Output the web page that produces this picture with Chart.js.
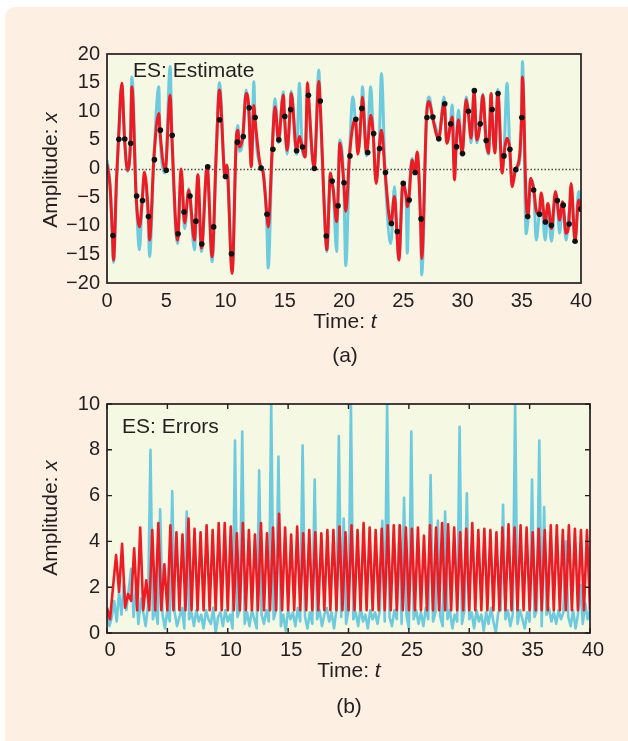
<!DOCTYPE html>
<html>
<head>
<meta charset="utf-8">
<script src="https://cdn.jsdelivr.net/npm/chart.js@4.4.0/dist/chart.umd.min.js"></script>
<style>
  body { margin: 0; width: 628px; height: 741px; background: #fff; overflow: hidden; position: relative;
         font-family: "Liberation Sans", Arial, sans-serif; color: #231f20; }
  #panel { position: absolute; left: 5px; top: 7px; width: 640px; height: 760px; background: #fdefe2; border-radius: 10px; }
  canvas { position: absolute; left: 0; }
  .lbl { position: absolute; font-size: 21px; line-height: 21px; white-space: nowrap; }
  .ctr { transform: translate(-50%, -50%); }
  .rot { transform: translate(-50%, -50%) rotate(-90deg); }
</style>
</head>
<body>
<div id="panel"></div>
<canvas id="estChart" width="628" height="315" style="top:0"></canvas>
<canvas id="errChart" width="628" height="300" style="top:370px"></canvas>

<div class="lbl" style="left:133px; top:59px">ES: Estimate</div>
<div class="lbl rot" style="left:49px; top:170px">Amplitude: <i>x</i></div>
<div class="lbl ctr" style="left:345px; top:320px">Time: <i>t</i></div>
<div class="lbl ctr" style="left:345px; top:354px">(a)</div>

<div class="lbl" style="left:122px; top:415px">ES: Errors</div>
<div class="lbl rot" style="left:49px; top:518px">Amplitude: <i>x</i></div>
<div class="lbl ctr" style="left:349px; top:669px">Time: <i>t</i></div>
<div class="lbl ctr" style="left:349px; top:705px">(b)</div>

<script>
// (a) estimate vs truth, sampled at the turning points of the curves
const tEst = [
  0.00, 0.25, 0.46, 0.55, 0.80, 0.97, 1.25, 1.48, 1.73, 1.98,
  2.10, 2.46, 2.74, 2.97, 3.16, 3.50, 3.59, 3.95, 4.37, 4.46,
  4.91, 5.33, 5.47, 5.95, 6.26, 6.55, 6.90, 7.38, 7.67, 7.97,
  8.45, 8.87, 9.21, 9.49, 9.97, 10.11, 10.56, 10.90, 11.04, 11.18,
  11.46, 11.74, 11.97, 12.17, 12.40, 12.48, 12.98, 13.15, 13.49, 13.60,
  13.94, 14.18, 14.47, 14.88, 14.98, 15.20, 15.46, 15.55, 16.00, 16.24,
  16.47, 16.72, 16.93, 17.00, 17.48, 17.88, 17.98, 18.45, 18.55, 18.86,
  18.97, 19.10, 19.38, 19.47, 19.65, 19.98, 20.15, 20.46, 20.75, 20.97,
  21.17, 21.48, 21.55, 21.90, 22.26, 22.46, 22.71, 22.97, 23.16, 23.47,
  23.95, 24.26, 24.46, 24.63, 24.97, 25.25, 25.34, 25.47, 25.75, 25.98,
  26.18, 26.46, 26.56, 26.96, 27.18, 27.47, 27.78, 27.97, 28.45, 28.68,
  28.99, 29.13, 29.33, 29.46, 29.66, 29.97, 30.31, 30.48, 30.73, 30.98,
  31.20, 31.49, 31.72, 31.99, 32.19, 32.42, 32.48, 32.73, 32.98, 33.35,
  33.49, 33.76, 33.99, 34.19, 34.47, 34.81, 34.98, 35.06, 35.37, 35.52,
  35.75, 36.02, 36.22, 36.47, 36.64, 36.98, 37.21, 37.51, 37.85, 37.99,
  38.19, 38.45, 38.74, 38.97, 39.17, 39.50, 39.80, 40.00
];
const estimate = [
  0.8, -3.0, -11.7, -16.0, -2.0, 5.1, 14.9, 5.2, -0.3, 4.4,
  14.3, -4.9, -10.2, -5.6, -0.6, -8.4, -12.5, 1.55, 9.6, 6.7,
  -0.3, 12.8, 5.8, -12.5, -0.1, -9.5, -3.8, -12.5, -1.1, -13.9,
  0.3, -15.4, 2.3, 13.7, -1.4, 0.6, -18.3, 4.7, 6.7, 3.8,
  5.6, 13.1, 10.6, 0.3, 11.0, 8.9, 0.1, -0.5, -8.0, -10.2,
  3.35, 10.8, 5.0, 12.8, 9.1, 3.2, 10.3, 13.1, 3.1, 5.6,
  3.75, 2.0, 15.0, 12.8, 0.0, 15.2, 11.8, -11.8, -14.2, -0.8,
  -2.2, -3.8, -9.3, -6.5, 4.4, -2.5, -7.5, 2.2, 7.5, 8.6,
  2.5, 10.5, 12.5, 2.6, 9.3, 6.1, -2.6, 3.5, 6.7, -0.7,
  -9.6, -4.9, -11.0, -16.0, -2.6, -4.9, -6.7, -5.5, 1.5, -0.7,
  2.9, -8.8, -15.7, 8.9, 11.7, 9.0, 6.1, 5.2, 11.4, 4.4,
  7.8, 9.0, -2.0, 3.8, 8.5, 2.6, 12.0, 10.0, 5.3, 13.6,
  5.0, 7.8, 12.8, 4.9, 2.7, 13.1, 10.3, 2.7, 13.1, -0.8,
  2.2, 5.3, 3.35, -3.2, -0.2, 2.1, 8.9, 16.0, -5.5, -8.4,
  -1.7, -3.75, -7.3, -8.0, -4.3, -9.35, -6.1, -10.5, -4.0, -5.6,
  -9.0, -5.8, -11.3, -9.7, -2.6, -12.7, -5.5, -7.1
];
const truth = [
  1.5, -2.5, -12.0, -16.4, -2.5, 5.0, 14.5, 5.5, -0.5, 5.0,
  16.0, -4.5, -14.2, -5.3, -1.5, -10.0, -15.4, 1.5, 14.3, 7.0,
  -0.8, 17.8, 6.0, -13.1, -1.0, -10.5, -3.5, -14.2, -2.0, -14.5,
  0.5, -16.3, 2.0, 15.0, -1.5, 0.5, -17.7, 4.5, 7.5, 3.0,
  5.0, 13.7, 9.0, 1.0, 15.2, 9.0, 0.5, 0.0, -10.0, -17.4,
  3.0, 12.2, 4.5, 13.4, 9.0, 2.5, 11.0, 13.5, 2.5, 14.9,
  3.5, 2.0, 14.0, 12.5, 0.0, 17.2, 11.5, -12.0, -14.5, -1.0,
  -2.0, -4.0, -14.5, -7.0, 5.0, -2.5, -17.0, 2.0, 12.5, 8.0,
  3.0, 10.0, 14.3, 2.2, 14.3, 6.0, -2.0, 4.0, 16.6, -1.0,
  -13.1, -3.2, -11.0, -15.5, -2.5, -6.0, -14.8, -5.5, 1.8, -0.5,
  1.5, -9.0, -18.6, 9.0, 12.5, 9.0, 7.0, 5.0, 12.5, 4.5,
  8.0, 11.1, 0.0, 3.5, 10.2, 3.0, 12.5, 10.0, 4.5, 13.0,
  4.5, 8.0, 13.0, 4.5, 2.5, 13.0, 10.0, 3.2, 13.8, 0.0,
  2.0, 14.9, 3.0, -2.0, 0.0, 1.0, 9.0, 18.7, -11.4, -9.0,
  -2.0, -4.0, -12.5, -8.0, -4.9, -12.5, -7.0, -12.7, -5.0, -6.0,
  -11.3, -6.0, -12.5, -8.0, -5.0, -12.5, -4.0, -7.0
];
// observations, one every 0.5
const tObs = [
  0.5, 1.0, 1.5, 2.0, 2.5, 3.0, 3.5, 4.0, 4.5, 5.0,
  5.5, 6.0, 6.5, 7.0, 7.5, 8.0, 8.5, 9.0, 9.5, 10.0,
  10.5, 11.0, 11.5, 12.0, 12.5, 13.0, 13.5, 14.0, 14.5, 15.0,
  15.5, 16.0, 16.5, 17.0, 17.5, 18.0, 18.5, 19.0, 19.5, 20.0,
  20.5, 21.0, 21.5, 22.0, 22.5, 23.0, 23.5, 24.0, 24.5, 25.0,
  25.5, 26.0, 26.5, 27.0, 27.5, 28.0, 28.5, 29.0, 29.5, 30.0,
  30.5, 31.0, 31.5, 32.0, 32.5, 33.0, 33.5, 34.0, 34.5, 35.0,
  35.5, 36.0, 36.5, 37.0, 37.5, 38.0, 38.5, 39.0, 39.5, 40.0
];
const obsVals = [
  -11.7, 5.1, 5.15, 4.4, -4.8, -5.6, -8.4, 1.55, 6.7, -0.3,
  5.8, -11.4, -7.6, -4.8, -9.2, -13.2, 0.3, -10.2, 8.5, -1.4,
  -14.9, 4.6, 5.6, 10.6, 8.9, 0.1, -8.0, 3.35, 5.0, 9.1,
  10.3, 3.1, 3.75, 12.8, 0.0, 11.8, -11.8, -2.2, -6.5, -2.5,
  2.2, 8.6, 10.5, 2.8, 6.1, 3.5, -0.7, -9.6, -11.0, -2.6,
  -5.5, -0.7, -8.8, 8.9, 9.0, 5.2, 11.3, 7.8, 3.8, 2.6,
  10.0, 13.6, 7.8, 4.9, 10.3, 13.1, 2.2, 3.35, -0.2, 8.9,
  -8.4, -3.75, -8.0, -9.35, -9.9, -5.6, -6.4, -9.7, -12.7, -7.1
];

// (b) errors: estimate error sampled every 0.25, truth-model error every 0.2
const errStep = 0.25;
const estErr = [
  1.1, 0.6, 2.0, 3.4, 1.8, 3.9, 1.1, 1.7,
  1.4, 3.7, 1.0, 4.6, 1.0, 2.3, 1.0, 4.5,
  1.0, 4.8, 1.0, 3.0, 1.0, 4.7, 1.0, 4.4,
  1.0, 4.3, 1.0, 5.0, 1.0, 4.55, 1.0, 4.4,
  1.0, 4.7, 1.0, 4.5, 1.0, 4.8, 1.0, 4.8,
  1.0, 4.65, 1.0, 4.35, 1.0, 4.8, 1.0, 4.5,
  1.0, 4.3, 1.0, 4.8, 1.0, 4.35, 1.0, 4.6,
  1.0, 5.2, 1.0, 4.6, 1.0, 4.3, 1.0, 4.65,
  1.0, 4.35, 1.0, 4.5, 1.0, 4.4, 1.0, 4.35,
  1.0, 4.5, 1.0, 4.5, 1.0, 4.65, 1.0, 4.4,
  1.0, 4.7, 1.0, 4.5, 1.0, 4.8, 1.0, 4.6,
  1.0, 4.5, 1.0, 4.55, 1.0, 4.7, 1.0, 4.7,
  1.0, 4.7, 1.0, 4.6, 1.0, 4.55, 1.0, 4.6,
  1.0, 4.25, 1.0, 4.7, 1.0, 4.6, 1.0, 4.8,
  1.0, 4.75, 1.0, 4.6, 1.0, 4.4, 1.0, 4.55,
  1.0, 4.8, 1.0, 4.5, 1.0, 4.55, 1.0, 4.5,
  1.0, 4.4, 1.0, 4.6, 1.0, 4.75, 1.0, 4.6,
  1.0, 4.7, 1.0, 4.6, 1.0, 4.4, 1.0, 4.55,
  1.0, 4.5, 1.0, 4.7, 1.0, 4.7, 1.0, 4.5,
  1.0, 4.7, 1.0, 4.55, 1.0, 4.5, 1.0, 4.5,
  1.0
];
const truthStep = 0.2;
const truthErr = [
  0.9, 0.3, 0.7, 1.4, 0.5, 1.8, 0.8, 2.2, 1.0, 1.9,
  2.8, 0.7, 2.0, 0.4, 1.5, 0.9, 0.3, 1.2, 8.0, 0.6,
  1.1, 0.4, 5.4, 0.8, 0.2, 1.0, 0.5, 6.2, 0.9, 0.3,
  0.7, 1.1, 0.2, 5.3, 0.6, 0.9, 0.3, 1.0, 0.5, 0.8,
  0.2, 1.0, 0.6, 0.4, 1.1, 0.0, 0.7, 0.9, 0.3, 1.0,
  0.5, 0.8, 0.2, 8.4, 0.7, 1.0, 8.8, 0.4, 0.9, 0.3,
  1.0, 0.6, 0.2, 7.1, 0.8, 0.4, 1.0, 0.5, 10.0, 0.6,
  1.0, 7.7, 0.3, 0.8, 0.1, 1.0, 0.6, 0.9, 0.3, 1.1,
  0.5, 8.2, 0.7, 0.2, 0.9, 0.4, 6.7, 0.6, 1.0, 0.3,
  0.8, 1.1, 0.5, 0.9, 0.2, 1.0, 8.6, 0.7, 5.0, 0.4,
  1.0, 10.0, 0.6, 0.9, 0.3, 1.1, 0.5, 0.8, 0.2, 1.0,
  0.6, 0.9, 0.4, 1.0, 4.9, 0.5, 10.0, 0.7, 0.3, 1.0,
  0.6, 4.7, 0.4, 5.9, 0.8, 0.2, 8.8, 0.6, 1.0, 0.4,
  0.9, 0.3, 1.1, 0.6, 6.9, 0.5, 0.9, 4.9, 0.7, 0.3,
  5.3, 0.6, 1.0, 0.2, 0.8, 0.5, 9.0, 0.4, 1.0, 6.1,
  0.6, 0.9, 0.2, 1.0, 0.5, 0.8, 0.1, 0.9, 0.4, 1.1,
  0.5, 0.0, 0.9, 1.0, 5.6, 0.6, 1.0, 0.3, 0.8, 10.0,
  0.4, 1.0, 0.6, 0.2, 0.9, 0.5, 6.7, 0.7, 1.0, 8.4,
  0.3, 5.5, 0.8, 1.1, 0.5, 0.9, 0.4, 1.0, 0.6, 0.9,
  4.0, 0.7, 0.3, 1.0, 0.2, 0.8, 2.1, 0.4, 1.3, 0.6,
  1.0
];

const xTicks = [0, 5, 10, 15, 20, 25, 30, 35, 40];

const RED = '#ec1c24';
const CYAN = '#6ecbdd';
const INK = '#231f20';
const PLOT_BG = '#f5f8e3';

Chart.defaults.font.family = '"Liberation Sans", Arial, sans-serif';
Chart.defaults.font.size = 20;
Chart.defaults.color = INK;

const fmt = v => (v < 0 ? '\u2212' + Math.abs(v) : String(v));

// plot background, dotted zero line, black frame and inward ticks
const plotFrame = {
  id: 'plotFrame',
  beforeDraw(chart, args, opts) {
    const { ctx, chartArea: a } = chart;
    ctx.save();
    ctx.fillStyle = PLOT_BG;
    ctx.fillRect(a.left, a.top, a.width, a.height);
    if (opts.zeroLine) {
      const y = Math.round(chart.scales.y.getPixelForValue(0)) + 0.5;
      ctx.strokeStyle = '#4a4a4a';
      ctx.lineWidth = 1.4;
      ctx.setLineDash([1.5, 2]);
      ctx.beginPath();
      ctx.moveTo(a.left, y);
      ctx.lineTo(a.right, y);
      ctx.stroke();
    }
    ctx.restore();
  },
  afterDraw(chart, args, opts) {
    const { ctx, chartArea: a, scales } = chart;
    ctx.save();
    ctx.strokeStyle = INK;
    if (opts.ticks) {
      const L = 5;
      ctx.lineWidth = 1.4;
      ctx.beginPath();
      scales.x.ticks.forEach(t => {
        const x = scales.x.getPixelForValue(t.value);
        ctx.moveTo(x, a.bottom); ctx.lineTo(x, a.bottom - L);
        ctx.moveTo(x, a.top); ctx.lineTo(x, a.top + L);
      });
      scales.y.ticks.forEach(t => {
        const y = scales.y.getPixelForValue(t.value);
        ctx.moveTo(a.left, y); ctx.lineTo(a.left + L, y);
        ctx.moveTo(a.right, y); ctx.lineTo(a.right - L, y);
      });
      ctx.stroke();
    }
    ctx.lineWidth = 1.7;
    ctx.strokeRect(a.left, a.top, a.width, a.height);
    ctx.restore();
  }
};

function axes(yMin, yMax, yStep, xHeight, xPad, xOffset) {
  return {
    x: {
      type: 'linear', min: 0, max: 40,
      afterBuildTicks: s => { s.ticks = xTicks.map(v => ({ value: v })); },
      ticks: { padding: xPad, maxRotation: 0, autoSkip: false, labelOffset: xOffset },
      grid: { display: false, drawTicks: false },
      border: { display: false },
      afterFit: s => { s.height = xHeight; }
    },
    y: {
      min: yMin, max: yMax,
      ticks: { stepSize: yStep, padding: 7, callback: fmt },
      grid: { display: false, drawTicks: false },
      border: { display: false },
      afterFit: s => { s.width = 107; }
    }
  };
}

const common = {
  responsive: false,
  animation: false,
  devicePixelRatio: 1,
  events: []
};

new Chart(document.getElementById('estChart'), {
  type: 'line',
  data: {
    datasets: [
      {
        data: tObs.map((t, i) => ({ x: t, y: obsVals[i] })),
        showLine: false, pointRadius: 2.8, pointBackgroundColor: '#111', pointBorderWidth: 0, order: 0
      },
      {
        data: tEst.map((t, i) => ({ x: t, y: estimate[i] })),
        borderColor: RED, borderWidth: 3, pointRadius: 0, cubicInterpolationMode: 'monotone',
        borderJoinStyle: 'round', order: 1
      },
      {
        data: tEst.map((t, i) => ({ x: t, y: truth[i] })),
        borderColor: CYAN, borderWidth: 3, pointRadius: 0, cubicInterpolationMode: 'monotone',
        borderJoinStyle: 'round', order: 2
      }
    ]
  },
  options: {
    ...common,
    layout: { padding: { left: 0, right: 47, top: 54, bottom: 0 } },
    plugins: { legend: { display: false }, tooltip: { enabled: false }, plotFrame: { zeroLine: true, ticks: false } },
    scales: axes(-20, 20, 5, 32, 6, 0)
  },
  plugins: [plotFrame]
});

new Chart(document.getElementById('errChart'), {
  type: 'line',
  data: {
    datasets: [
      {
        data: estErr.map((v, i) => ({ x: i * errStep, y: v })),
        borderColor: RED, borderWidth: 2.6, pointRadius: 0, tension: 0, borderJoinStyle: 'round', order: 0
      },
      {
        data: truthErr.map((v, i) => ({ x: i * truthStep, y: v })),
        borderColor: CYAN, borderWidth: 2.6, pointRadius: 0, tension: 0, borderJoinStyle: 'round', order: 1
      }
    ]
  },
  options: {
    ...common,
    layout: { padding: { left: 0, right: 38, top: 34, bottom: 0 } },
    plugins: { legend: { display: false }, tooltip: { enabled: false }, plotFrame: { zeroLine: false, ticks: true } },
    scales: axes(0, 10, 2, 37, 5, 3)
  },
  plugins: [plotFrame]
});
</script>
</body>
</html>
